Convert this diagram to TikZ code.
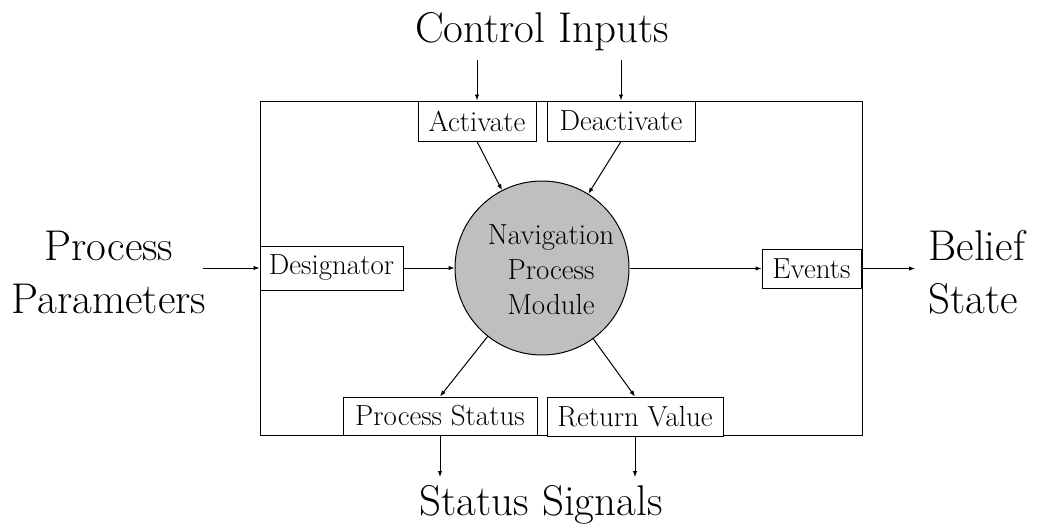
\documentclass[tikz,border=0pt]{standalone}
\usetikzlibrary{arrows.meta}
\begin{document}
\begin{tikzpicture}[x=1pt,y=-1pt,
  line width=1pt,
  arr/.style={-{Latex[length=6pt,width=4.5pt]}},
  box/.style={draw, fill=white, inner sep=0pt, font=\fontsize{29}{35}\selectfont},
  big/.style={inner sep=0pt, font=\fontsize{43}{53}\selectfont},
  lbl/.style={align=center, inner sep=0pt, font=\fontsize{29}{35}\selectfont}]
\useasboundingbox (0,0) rectangle (1037,525);
% outer frame
\node[draw, inner sep=0pt, minimum width=602pt, minimum height=334pt] (frame) at (561,268) {};
% central process
\node[circle, draw, fill=gray!50, minimum size=174pt, inner sep=0pt] (nav) at (542,268) {};
\node[lbl] (navtxt) at (551,270) {Navigation\\Process\\Module};
% boxes
\node[box, minimum width=118pt, minimum height=40pt] (act) at (477,121) {Activate};
\node[box, minimum width=148pt, minimum height=40pt] (deact) at (621,121) {Deactivate};
\node[box, minimum width=143pt, minimum height=44pt] (des) at (331.5,268) {Designator};
\node[box, minimum width=99pt, minimum height=39pt] (ev) at (811.5,268.5) {Events};
\node[box, minimum width=194pt, minimum height=38pt] (ps) at (440,416) {Process Status};
\node[box, minimum width=176pt, minimum height=39pt] (rv) at (635,416.5) {Return Value};
% outer labels
\node[big, anchor=base] (ci) at (542,42) {Control Inputs};
\node[big, anchor=base] (ss) at (541,515) {Status Signals};
\node[big, align=center] (pp) at (109,272) {Process\\Parameters};
\node[big, align=left, anchor=west] (bs) at (928,272) {Belief\\State};
% free ends
\coordinate (ci1) at (477,60);
\coordinate (ci2) at (621,60);
\coordinate (ss1) at (440,477);
\coordinate (ss2) at (635,477);
\coordinate (ppin) at (203,268);
\coordinate (bsout) at (915,268.5);
% connectors
\draw[arr] (ci1) -- (act.north);
\draw[arr] (ci2) -- (deact.north);
\draw[arr] (act.south) -- (nav);
\draw[arr] (deact.south) -- (nav);
\draw[arr] (ppin) -- (des.west);
\draw[arr] (des.east) -- (nav.west);
\draw[arr] (nav.east |- ev.west) -- (ev.west);
\draw[arr] (ev.east) -- (bsout);
\draw[arr] (nav) -- (ps.north);
\draw[arr] (nav) -- (rv.north);
\draw[arr] (ps.south) -- (ss1);
\draw[arr] (rv.south) -- (ss2);
\end{tikzpicture}
\end{document}
